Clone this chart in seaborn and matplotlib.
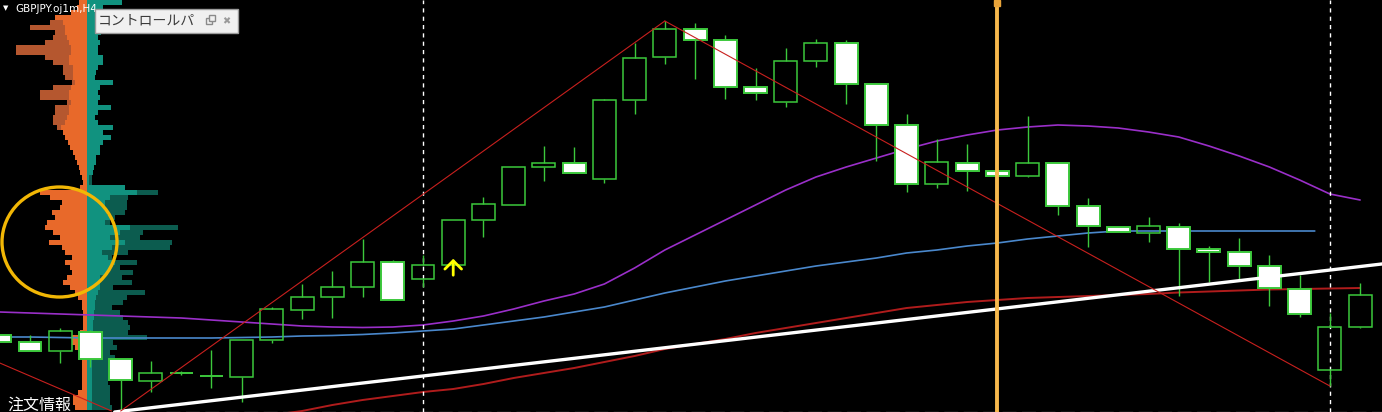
import numpy as np
import pandas as pd
import seaborn as sns
import matplotlib.pyplot as plt
from matplotlib.patches import Rectangle, Ellipse

sns.set_style("dark", {"axes.facecolor": "black", "figure.facecolor": "black"})
plt.rcParams['font.family'] = ['DejaVu Sans', 'Noto Sans CJK JP']

# GBPJPY H4 candles. price is read as chart rows (0 = top of the window, bigger = lower)
candle_idx = list(range(-1, 45))
opens = [335, 342, 351, 332, 359, 381, 373, 376, 377, 340, 310, 297, 287, 262, 279, 265,
         220, 205, 167, 163, 179, 100, 57, 29, 40, 87, 102, 61, 43, 84, 125, 184,
         163, 171, 176, 163, 206, 227, 233, 227, 249, 252, 266, 289, 370, 327]
highs = [335, 335, 328, 330, 359, 361, 371, 350, 340, 307, 284, 271, 239, 260, 255, 220,
         197, 167, 146, 147, 99, 43, 21, 23, 35, 68, 48, 39, 40, 83, 114, 139,
         144, 171, 116, 163, 198, 227, 217, 223, 246, 238, 255, 275, 313, 283]
lows = [342, 351, 363, 367, 410, 392, 375, 388, 402, 343, 319, 318, 297, 300, 287, 265,
        237, 205, 181, 173, 183, 114, 64, 79, 99, 100, 107, 67, 104, 161, 192, 188,
        191, 176, 177, 215, 247, 232, 242, 296, 282, 280, 306, 317, 386, 328]
closes = [342, 351, 331, 359, 380, 373, 373, 376, 340, 309, 297, 287, 262, 300, 265, 220,
          204, 167, 163, 173, 100, 58, 29, 40, 87, 93, 61, 43, 84, 125, 184, 162,
          171, 176, 163, 206, 226, 232, 226, 249, 252, 266, 288, 314, 327, 295]

# moving averages
purple_idx = list(range(-1, 45))
purple_ma = [312, 313, 314, 315, 316, 317, 318, 320, 322, 324, 326, 327, 327.5, 327, 325, 321,
             316, 309, 301, 294, 284, 268, 250, 235, 220, 205, 190, 177, 167, 158, 149, 141,
             135, 130, 127, 125, 126, 128, 132, 137, 146, 156, 167, 180, 194, 200]
blue_idx = list(range(-1, 43)) + [42.5]
blue_ma = [337, 337, 337.5, 338, 338, 338, 338, 338, 337.5, 337, 336, 335.5, 334.5, 333, 331, 329,
           325, 321, 317, 312, 307, 300, 293, 287, 281, 276, 271, 266, 262, 258, 253, 250,
           246, 243, 239, 236, 233, 231, 231, 231, 231, 231, 231, 231, 231]
red_idx = list(range(8, 45))
red_ma = [415, 411, 405, 400, 396, 392, 389, 384, 378, 373, 368, 362, 356, 349, 344, 339,
          333, 328, 323, 318, 313, 308, 305, 302, 300, 298, 297, 296, 295, 294, 292.5, 291.5,
          290.5, 289.5, 289, 288.5, 288]

# trend lines (candle index, row)
trend_up = ([3, 21], [411, 21])
trend_down = ([21, 43], [21, 386])
trend_left = ([-1, 2.7], [363, 411])
white_line = ([2.8, 44.8], [412, 263.7])
separators = [13, 43]
time_line = 32
signal_idx, signal_tip = 14, 256

# volume profile rows (5 rows each, from top)
prof_rows = list(range(0, 410, 5))
sell_vol = [8, 10, 16, 32, 24, 22, 22, 20, 18, 16,
            16, 18, 18, 14, 14, 14, 12, 16, 18, 18,
            16, 18, 18, 20, 22, 26, 24, 22, 19, 17,
            14, 12, 10, 8, 7, 5, 4, 7, 47, 37,
            25, 27, 35, 32, 40, 42, 34, 27, 38, 25,
            22, 15, 22, 17, 15, 20, 24, 17, 12, 9,
            5, 5, 4, 4, 4, 4, 7, 15, 15, 12,
            7, 5, 5, 5, 5, 5, 5, 5, 9, 14,
            14, 12]
sell_total = [0, 0, 0, 0, 37, 57, 32, 34, 42, 71, 71, 42, 34, 24, 24, 22, 15, 34, 47, 47,
              20, 32, 32, 34, 34, 30, 24] + [0] * 55
buy_vol = [35, 16, 13, 11, 16, 16, 14, 11, 13, 11,
           11, 16, 16, 11, 9, 8, 26, 13, 11, 13,
           11, 24, 11, 8, 11, 26, 16, 24, 16, 13,
           13, 9, 9, 7, 6, 2, 2, 38, 50, 23,
           18, 18, 20, 23, 18, 43, 33, 23, 38, 25,
           15, 21, 28, 23, 21, 13, 13, 13, 11, 9,
           8, 8, 7, 7, 6, 6, 6, 13, 8, 8,
           6, 6, 5, 5, 5, 5, 5, 5, 5, 5,
           5, 5]
buy_total = [0] * 35 + [5, 5, 0, 71, 41, 40, 40, 38, 28, 23,
                        91, 56, 53, 85, 83, 41, 25, 50, 33, 46,
                        35, 45, 26, 58, 40, 36, 25, 33, 36, 41,
                        43, 41, 60, 26, 30, 23, 28, 23, 25, 23,
                        23, 21, 23, 23, 23, 23, 25]

W, H = 1382, 412
fig = plt.figure(figsize=(W / 100, H / 100), dpi=100, facecolor='black')

# profile axes (behind the chart)
axp = fig.add_axes([0, 0, 200 / W, 1])
axp.set_axis_off()
axp.set_xlim(-87, 113)
axp.set_ylim(H, 0)
yc = np.array(prof_rows) + 2.5
axp.barh(yc, -np.array(sell_total), height=5, color='#b5572f', linewidth=0)
axp.barh(yc, -np.array(sell_vol), height=5, color='#e8692a', linewidth=0)
axp.barh(yc, buy_total, height=5, color='#0c5c4f', linewidth=0)
axp.barh(yc, buy_vol, height=5, color='#11927f', linewidth=0)
axp.add_patch(Ellipse((-27.5, 242), 115, 110, facecolor='none', edgecolor='#f2b705', lw=2.4, zorder=5))

# main chart
ax = fig.add_axes([0, 0, 1, 1])
ax.set_facecolor('none')
ax.set_axis_off()
ax.set_xlim(-30 / 30.23, (W - 30) / 30.23)
ax.set_ylim(H, 0)

sns.lineplot(x=purple_idx, y=purple_ma, ax=ax, color='#9a2fc9', lw=1.2, legend=False, zorder=2)
sns.lineplot(x=blue_idx, y=blue_ma, ax=ax, color='#4a88cc', lw=1.2, legend=False, zorder=2)
sns.lineplot(x=red_idx, y=red_ma, ax=ax, color='#b01c1c', lw=1.4, legend=False, zorder=2)

ax.hlines(411.5, 4.5, 44.8, color='#5c5c5c', lw=1, linestyles=(0, (10, 4)), zorder=1)

for s in separators:
    ax.axvline(s, color='white', lw=1, linestyle=(0, (3, 3)), zorder=2)

df = pd.DataFrame({'i': candle_idx, 'o': opens, 'h': highs, 'l': lows, 'c': closes})
df['top'] = df[['o', 'c']].min(axis=1)
df['bot'] = df[['o', 'c']].max(axis=1)
bull = df['c'] < df['o']
green = '#3cc83c'
ax.vlines(df['i'], df['h'], df['top'], color=green, lw=1, zorder=3)
ax.vlines(df['i'], df['bot'], df['l'], color=green, lw=1, zorder=3)
ax.bar(df['i'][bull], (df['bot'] - df['top'])[bull], bottom=df['top'][bull], width=0.76,
       facecolor='none', edgecolor=green, lw=1.1, zorder=3)
ax.bar(df['i'][~bull], (df['bot'] - df['top'])[~bull], bottom=df['top'][~bull], width=0.76,
       facecolor='white', edgecolor=green, lw=1.4, zorder=3)

ax.plot(*white_line, color='white', lw=2.4, zorder=4)
for tl in (trend_up, trend_down, trend_left):
    ax.plot(*tl, color='#c8201e', lw=0.8, zorder=5)

ax.axvline(time_line, color='#f6b84c', lw=2.8, zorder=6)
ax.plot(time_line, 2.5, 's', ms=4, color='#e9a43a', zorder=7)

ax.annotate('', xy=(signal_idx, signal_tip), xytext=(signal_idx, signal_tip + 22),
            arrowprops=dict(arrowstyle='->,head_length=0.6,head_width=0.6', color='#ffff00', lw=2),
            zorder=7)

# texts and the floating panel
def fx(x):
    return x / W


def fy(y):
    return 1 - y / H


fig.text(fx(3), fy(8), '▼', color='white', fontsize=5, va='center', family='DejaVu Sans')
fig.text(fx(15), fy(8.5), 'GBPJPY.oj1m,H4', color='white', fontsize=7.5, va='center',
         family='DejaVu Sans')
fig.add_artist(Rectangle((fx(95), fy(33)), 143 / W, 24 / H, transform=fig.transFigure,
                         facecolor='#f0f0f0', edgecolor='#9c9c9c', lw=1, zorder=4))
fig.text(fx(98), fy(21), 'コントロールパ', color='#3a3a3a', fontsize=10, va='center',
         family=['Noto Sans CJK JP', 'DejaVu Sans'], zorder=5)
fig.add_artist(Rectangle((fx(206), fy(24)), 6 / W, 6 / H, transform=fig.transFigure,
                         facecolor='none', edgecolor='#8a8a8a', lw=1, zorder=5))
fig.add_artist(Rectangle((fx(209), fy(21)), 6 / W, 6 / H, transform=fig.transFigure,
                         facecolor='#f0f0f0', edgecolor='#8a8a8a', lw=1, zorder=6))
fig.text(fx(226), fy(21), '✖', color='#9a9a9a', fontsize=7, va='center', ha='center',
         family='DejaVu Sans', zorder=6)
fig.text(fx(7), fy(410), '注文情報', color='white', fontsize=11.5, va='baseline',
         family=['Noto Sans CJK JP', 'DejaVu Sans'])

fig.savefig('out.png', dpi=100, facecolor='black')
